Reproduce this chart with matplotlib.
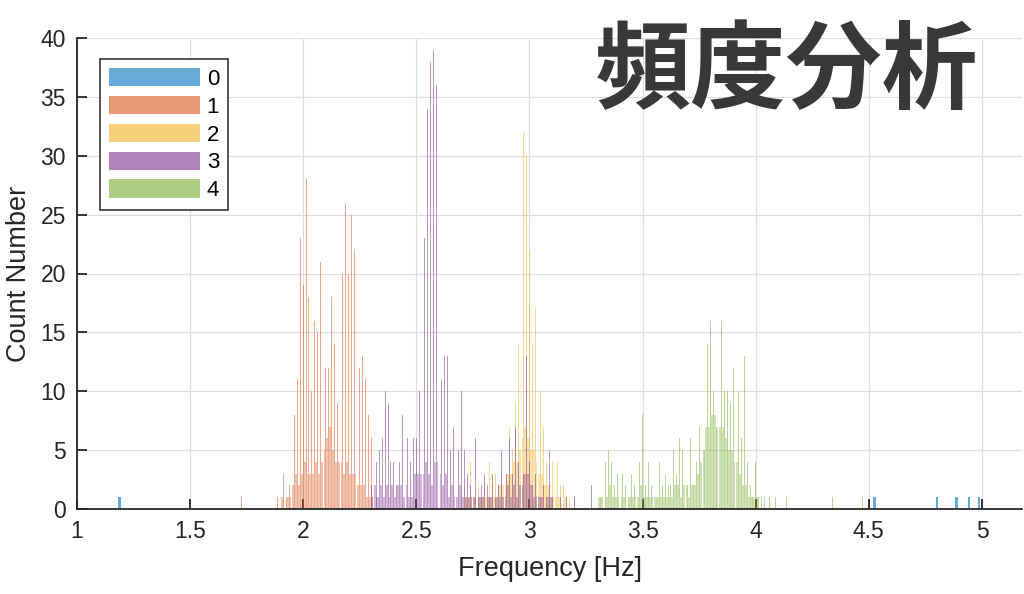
import matplotlib.pyplot as plt
import numpy as np
from matplotlib.patches import Patch

# counts. peaks sit on a 0.0125 Hz grid,
# the low "fill" bars sit half a step in between
step = 0.0125

labels = ['0', '1', '2', '3', '4']
colors = ['#0072BD', '#D95319', '#EDB120', '#7E2F8E', '#77AC30']

# 0
f0 = [1.1875, 4.525, 4.8, 4.8875, 4.9438, 4.9875]
c0 = [1, 1, 1, 1, 1, 1]

# 1
f1_start = 1.8875
c1_peak = [1, 0, 3, 1, 2, 7, 8, 11, 23, 19, 28, 18, 10, 16, 15, 21, 28, 12,
           12, 18, 14, 9, 16, 20, 26, 20, 25, 22, 16, 12, 13, 11, 8, 6, 2, 1]
c1_fill = [0, 1, 0, 1, 1, 2, 3, 2, 3, 4, 3, 3, 3, 4, 3, 4, 5, 6, 7, 5, 4, 4,
           4, 3, 4, 3, 3, 3, 2, 2, 2, 1, 1, 1, 0, 0]
f1_extra = [1.7275]
c1_extra = [1]

# 2
f2_start = 2.7
c2_peak = [1, 2, 1, 4, 3, 1, 2, 1, 2, 1, 4, 2, 3, 2, 3, 5, 3, 7, 5, 9, 14,
           14, 32, 30, 22, 14, 17, 8, 10, 7, 4, 2, 4, 4, 4, 2, 2, 1, 1, 0, 1]
c2_fill = [0, 1, 1, 1, 1, 0, 1, 1, 1, 1, 1, 1, 1, 2, 2, 2, 3, 3, 4, 4, 5, 6,
           7, 6, 5, 5, 4, 3, 3, 2, 2, 1, 1, 1, 1, 0, 1, 0]
f2_extra = [1.535]
c2_extra = [1]

# 3
f3_start = 2.3
c3_peak = [2, 3, 4, 5, 6, 10, 9, 4, 4, 2, 4, 8, 9, 6, 4, 6, 6, 10, 18, 23,
           34, 38, 39, 36, 11, 11, 13, 13, 5, 7, 7, 5, 10, 5, 3, 2, 1, 6, 1,
           2, 3, 2, 1, 3, 1, 2, 5, 2, 3, 6, 3, 7, 4, 7, 3, 13, 4, 2, 3, 2, 1,
           2, 1, 5, 1, 1, 0, 1, 0, 1]
c3_fill = [1, 2, 1, 2, 1, 2, 1, 2, 1, 2, 2, 1, 2, 1, 1, 3, 3, 3, 3, 4, 3, 2,
           4, 4, 3, 2, 3, 1, 2, 1, 1, 2, 1, 1, 1, 1, 1, 0, 1, 1, 0, 1, 1, 0,
           1, 1, 1, 1, 2, 1, 2, 1, 2, 2, 3, 3, 2, 1, 1, 1, 1, 0, 1, 1]
f3_extra = [3.2, 3.275]
c3_extra = [1, 2]

# 4
f4_start = 3.3
c4_peak = [0, 1, 1, 4, 5, 4, 2, 3, 3, 3, 2, 1, 3, 2, 1, 4, 8, 2, 4, 2, 4, 1,
           4, 2, 3, 2, 2, 5, 3, 6, 5, 3, 2, 6, 2, 4, 7, 11, 5, 14, 16, 10, 7,
           14, 16, 10, 10, 9, 12, 7, 10, 6, 13, 4, 2, 1, 4, 1, 1, 1, 0, 1, 0,
           1, 0, 0, 0, 1]
c4_fill = [1, 1, 0, 1, 2, 1, 1, 1, 1, 1, 0, 1, 1, 1, 1, 2, 1, 1, 1, 1, 1, 1,
           1, 1, 1, 1, 1, 2, 2, 1, 2, 2, 1, 2, 2, 3, 4, 5, 7, 7, 8, 8, 7, 7,
           7, 6, 5, 5, 4, 4, 3, 2, 2, 1, 1, 1, 1]
f4_extra = [4.34, 4.4725]
c4_extra = [1, 1]


def grid_x(start, n, offset=0.0):
    return start + offset + step * np.arange(n)


peaks = [
    (np.array(f0), np.array(c0)),
    (np.concatenate([grid_x(f1_start, len(c1_peak)), f1_extra]), np.concatenate([c1_peak, c1_extra])),
    (np.concatenate([grid_x(f2_start, len(c2_peak)), f2_extra]), np.concatenate([c2_peak, c2_extra])),
    (np.concatenate([grid_x(f3_start, len(c3_peak)), f3_extra]), np.concatenate([c3_peak, c3_extra])),
    (np.concatenate([grid_x(f4_start, len(c4_peak)), f4_extra]), np.concatenate([c4_peak, c4_extra])),
]
fills = [
    None,
    (grid_x(f1_start, len(c1_fill), step / 2), np.array(c1_fill)),
    (grid_x(f2_start, len(c2_fill), step / 2), np.array(c2_fill)),
    (grid_x(f3_start, len(c3_fill), step / 2), np.array(c3_fill)),
    (grid_x(f4_start, len(c4_fill), step / 2), np.array(c4_fill)),
]

plt.rcParams['font.family'] = ['Liberation Sans', 'DejaVu Sans']
fig = plt.figure(figsize=(10.24, 5.94), dpi=100)
ax = fig.add_axes([77 / 1024, 1 - 509 / 594, 945 / 1024, 471 / 594])

for i in range(5):
    x, h = peaks[i]
    if i == 0:
        ax.bar(x, h, width=0.01, color=colors[i], alpha=0.6, linewidth=0, zorder=2)
        continue
    ax.bar(x, h, width=0.0038, color=colors[i], alpha=0.5, linewidth=0, zorder=2)
    xf, hf = fills[i]
    ax.bar(xf, hf, width=0.008, color=colors[i], alpha=0.35, linewidth=0, zorder=2)

ax.set_xlim(1, 1 + 945 / 226.25)
ax.set_ylim(0, 40)
ax.set_xticks(np.arange(1, 5.01, 0.5))
ax.set_xticklabels(['1', '1.5', '2', '2.5', '3', '3.5', '4', '4.5', '5'])
ax.set_yticks(np.arange(0, 41, 5))
ax.grid(True, color='#dedede', linewidth=0.9, zorder=0)
ax.set_axisbelow(True)
for s in ['top', 'right']:
    ax.spines[s].set_visible(False)
for s in ['left', 'bottom']:
    ax.spines[s].set_color('#262626')
    ax.spines[s].set_linewidth(1.3)
    ax.spines[s].set_zorder(3)
ax.tick_params(direction='in', length=7, width=1.3, color='#262626',
               labelsize=16.5, labelcolor='#262626', pad=8)

ax.set_xlabel('Frequency [Hz]', fontsize=19.5, color='#262626', labelpad=9)
ax.set_ylabel('Count Number', fontsize=19.5, color='#262626', labelpad=6)

handles = [Patch(facecolor=c, alpha=0.6, edgecolor='none') for c in colors]
leg = ax.legend(handles, labels, loc='upper left',
                bbox_to_anchor=(23 / 945, 450 / 471), borderaxespad=0,
                fontsize=16, handlelength=4.1, handleheight=0.9,
                labelspacing=0.27, handletextpad=0.3, borderpad=0.4,
                fancybox=False, framealpha=1, edgecolor='#262626')
leg.get_frame().set_linewidth(1.1)

fig.text(786 / 1024, 1 - 73 / 594, '頻度分析', fontsize=69, fontweight='bold',
         color='#383838', ha='center', va='center',
         family=['Noto Sans CJK JP', 'DejaVu Sans'])

fig.savefig('out.png', dpi=100)
